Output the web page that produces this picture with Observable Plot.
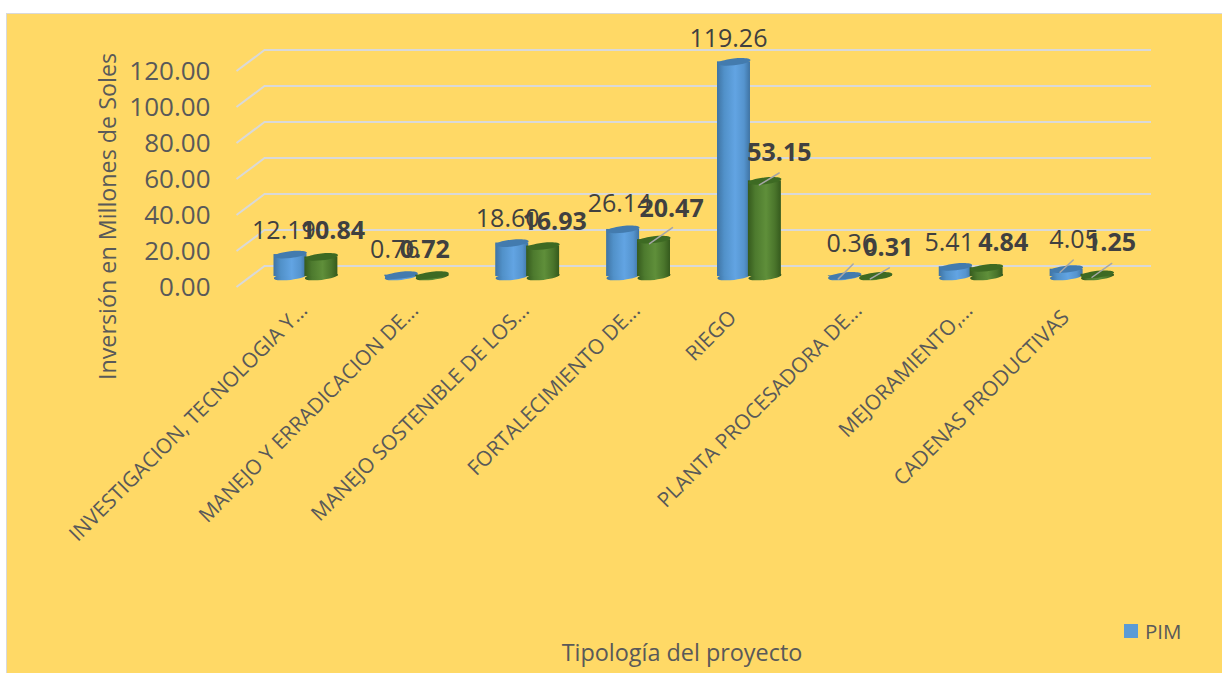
<!DOCTYPE html>
<html lang="es">
<head>
<meta charset="utf-8">
<script src="https://cdn.jsdelivr.net/npm/d3@7"></script>
<script src="https://cdn.jsdelivr.net/npm/@observablehq/plot@0.6"></script>
<style>
  html, body { margin: 0; padding: 0; background: #fff; }
  body { width: 1222px; height: 673px; position: relative; overflow: hidden; font-family: "Open Sans", sans-serif; }
  #panel { position: absolute; left: 6px; top: 13px; right: -4px; bottom: -4px; background: #FFD966; border: 1.5px solid #D9D9D9; }
  #chart { position: absolute; left: 0; top: 0; }
  #chart svg { background: transparent; display: block; }
  #legend { position: absolute; left: 1124px; top: 620px; display: flex; align-items: center; gap: 7px; color: #595959; font-size: 20.5px; line-height: 22px; }
  #legend i { display: block; width: 14px; height: 14px; background: #5B9BD5; }
</style>
</head>
<body>
<div id="panel"></div>
<div id="chart"></div>
<div id="legend"><i></i><span>PIM</span></div>
<script>
// ---- data ----
const categories = [
  "INVESTIGACION, TECNOLOGIA Y...",
  "MANEJO Y ERRADICACION DE...",
  "MANEJO SOSTENIBLE DE LOS...",
  "FORTALECIMIENTO DE...",
  "RIEGO",
  "PLANTA PROCESADORA DE...",
  "MEJORAMIENTO,...",
  "CADENAS PRODUCTIVAS"
];
const pim = [12.19, 0.76, 18.60, 26.14, 119.26, 0.36, 5.41, 4.05];
const second = [10.84, 0.72, 16.93, 20.47, 53.15, 0.31, 4.84, 1.25];
const yTicks = [0, 20, 40, 60, 80, 100, 120];

// hand placement of the data labels (px from the category centre / bar top)
const pimLabelDx = [-22, -22, -20, -19, -21, -9, -22, -8];
const pimLabelDy = [-24, -25, -24, -25, -23, -32, -24, -29];
const secondLabelDx = [27, 8, 27, 33, 30, 28, 32, 29];
const secondLabelDy = [-26, -25, -24, -31, -28, -28, -25, -31];

// leader lines: [category index, value, dx, dy, length, angle]
const leaders = [
  [3, second[3], 11, 4, 28, 55],
  [4, second[4], 10, 4, 23, 59],
  [5, pim[5], -22, 3, 21, 45],
  [5, second[5], 10, 3, 22, 60],
  [7, pim[7], -22, 3, 18, 47],
  [7, second[7], 10, 3, 24, 55]
];

const pimRows = categories.map((c, i) => ({c, v: pim[i], dx: pimLabelDx[i], dy: pimLabelDy[i]}));
const secondRows = categories.map((c, i) => ({c, v: second[i], dx: secondLabelDx[i], dy: secondLabelDy[i]}));

// ---- symbols ----
// tilted ellipse, the cap of a cylinder
function ellipseSymbol(rx, ry, deg) {
  const t = deg * Math.PI / 180, cos = Math.cos(t), sin = Math.sin(t), k = 0.5523;
  const P = (x, y) => [x * cos - y * sin, x * sin + y * cos];
  return {
    draw(ctx) {
      ctx.moveTo(...P(rx, 0));
      ctx.bezierCurveTo(...P(rx, k * ry), ...P(k * rx, ry), ...P(0, ry));
      ctx.bezierCurveTo(...P(-k * rx, ry), ...P(-rx, k * ry), ...P(-rx, 0));
      ctx.bezierCurveTo(...P(-rx, -k * ry), ...P(-k * rx, -ry), ...P(0, -ry));
      ctx.bezierCurveTo(...P(k * rx, -ry), ...P(rx, -k * ry), ...P(rx, 0));
      ctx.closePath();
    }
  };
}
const capSymbol = ellipseSymbol(16.6, 3.4, -6.5);
// side wall of the 3D floor
const wallSymbol = {draw(ctx) { ctx.moveTo(-14, 10.5); ctx.lineTo(14, -10.5); }};
const leaderShape = {draw(ctx, l) { ctx.moveTo(0, 0); ctx.lineTo(0, -l); }};

// gradients for the cylinders' sides
function gradients() {
  const defs = d3.create("svg:defs");
  const add = (id, stops) => {
    const g = defs.append("linearGradient").attr("id", id).attr("x1", 0).attr("x2", 1).attr("y1", 0).attr("y2", 0);
    stops.forEach(([o, c]) => g.append("stop").attr("offset", o).attr("stop-color", c));
  };
  add("gBlue", [[0, "#3F73A3"], [0.22, "#5191C9"], [0.55, "#62A4E3"], [0.82, "#5594CE"], [1, "#3F73A3"]]);
  add("gGreen", [[0, "#355A1D"], [0.22, "#4D7A2E"], [0.55, "#5F8F3A"], [0.82, "#4A752B"], [1, "#355A1D"]]);
  return defs.node();
}

// ---- series drawing ----
const bandInsetNear = 23.5, bandInsetFar = 54.4;
function cylinder(rows, gradient, capFill, dx, insetLeft, insetRight) {
  return [
    Plot.dot(rows, {x: "c", y: () => 0, dx, r: 5, symbol: capSymbol, fill: gradient, stroke: "none"}),
    Plot.barY(rows, {x: "c", y1: () => 0, y2: "v", insetLeft, insetRight, fill: gradient}),
    Plot.dot(rows, {x: "c", y: "v", dx, r: 5, symbol: capSymbol, fill: capFill, stroke: "none"})
  ];
}
const labels = (rows, fontWeight) => rows.map(d => Plot.text([d], {
  x: "c", y: "v", text: d => d.v.toFixed(2), dx: d.dx, dy: d.dy,
  fontSize: 25, fontWeight, fill: "#404040"
}));
const fullNames = ["RIEGO", "CADENAS PRODUCTIVAS"];
const xAxis = (ticks, dx, dy) => Plot.axisX({
  ticks, anchor: "bottom", label: null, tickSize: 0, tickPadding: 28, tickRotate: -45,
  fontSize: 20.8, fill: "#595959", dx, dy
});

const chart = Plot.plot({
  width: 1222, height: 673,
  marginLeft: 250, marginRight: 85, marginTop: 60, marginBottom: 397,
  style: {background: "transparent", fontFamily: "'Open Sans', sans-serif", overflow: "visible"},
  x: {type: "band", domain: categories, padding: 0, align: 0.5, round: false},
  y: {domain: [0, 120]},
  marks: [
    gradients,
    Plot.ruleY(yTicks, {dx: 14, dy: -10.5, stroke: "#D9D9D9", strokeWidth: 2}),
    Plot.dot(yTicks, {y: d => d, frameAnchor: "left", r: 5, symbol: wallSymbol, fill: "none", stroke: "#D9D9D9", strokeWidth: 2}),
    Plot.axisY(yTicks, {
      anchor: "left", label: null, tickSize: 0, tickPadding: 40, dy: 11.5,
      tickFormat: d => d.toFixed(2), fontSize: 26, fill: "#595959"
    }),
    xAxis(categories.filter(c => !fullNames.includes(c)), -2, 2.5),
    xAxis(fullNames, -16.5, 9.5),
    ...cylinder(pimRows, "url(#gBlue)", "#437BAE", -15.5, bandInsetNear, bandInsetFar),
    ...cylinder(secondRows, "url(#gGreen)", "#3D6A23", 15.5, bandInsetFar, bandInsetNear),
    ...leaders.map(([i, v, dx, dy, length, rotate]) => Plot.vector([{c: categories[i], v}], {
      x: "c", y: "v", dx, dy, length, rotate, anchor: "start", shape: leaderShape,
      stroke: "#A6A6A6", strokeWidth: 1.5
    })),
    ...labels(pimRows, 400),
    ...labels(secondRows, 700),
    Plot.text(["Inversión en Millones de Soles"], {
      frameAnchor: "left", textAnchor: "middle", rotate: -90, dx: -142, dy: 48, fontSize: 23.3, fill: "#595959"
    }),
    Plot.text(["Tipología del proyecto"], {
      frameAnchor: "bottom", dx: -12, dy: 384, fontSize: 23.4, fill: "#595959"
    })
  ]
});
document.getElementById("chart").append(chart);
</script>
</body>
</html>
